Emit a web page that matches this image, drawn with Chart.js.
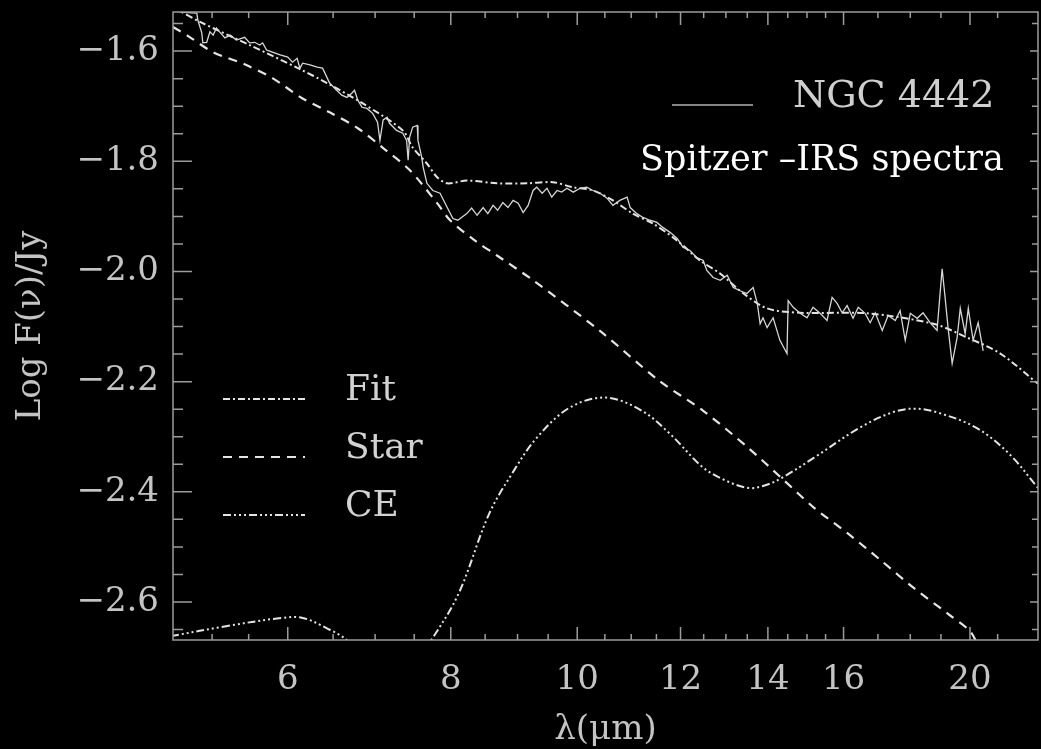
<!DOCTYPE html>
<html>
<head>
<meta charset="utf-8">
<script src="https://cdn.jsdelivr.net/npm/chart.js"></script>
<style>
  html, body { margin: 0; padding: 0; background: #000; overflow: hidden; }
  #wrap { width: 1041px; height: 749px; position: relative; }
</style>
</head>
<body>
<div id="wrap"><canvas id="sed"></canvas></div>
<script>
// observed Spitzer-IRS spectrum of NGC 4442
const specLambda = [4.96,5.11,5.12,5.155,5.165,5.20,5.23,5.26,5.29,5.32,
  5.37,5.42,5.48,5.56,5.61,5.66,5.71,5.74,5.78,5.84,
  5.92,6.00,6.05,6.10,6.13,6.16,6.24,6.32,6.38,6.46,
  6.54,6.60,6.66,6.72,6.75,6.79,6.84,6.90,6.97,7.03,
  7.06,7.10,7.15,7.18,7.27,7.35,7.40,7.42,7.44,7.48,
  7.54,7.55,7.60,7.62,7.67,7.75,7.85,7.95,8.03,8.10,
  8.23,8.30,8.38,8.47,8.54,8.62,8.69,8.77,8.85,8.93,
  9.01,9.09,9.17,9.25,9.31,9.40,9.48,9.56,9.65,9.73,
  9.82,9.93,10.05,10.17,10.28,10.41,10.54,10.65,10.78,10.92,
  10.98,11.11,11.23,11.37,11.51,11.63,11.78,11.93,12.05,12.20,
  12.35,12.49,12.57,12.71,12.87,13.03,13.17,13.33,13.49,13.64,
  13.74,13.81,13.88,13.98,14.13,14.30,14.48,14.51,14.64,14.82,
  15.00,15.16,15.35,15.54,15.68,15.82,15.96,16.10,16.27,16.42,
  16.62,16.77,16.92,17.13,17.31,17.53,17.68,17.84,18.00,18.22,
  18.41,18.64,18.87,19.04,19.14,19.24,19.38,19.55,19.66,19.83,
  19.94,20.11,20.29,20.47];
const specFlux = [-1.529,-1.531,-1.544,-1.567,-1.585,-1.584,-1.565,-1.571,-1.558,-1.565,
  -1.576,-1.571,-1.580,-1.575,-1.585,-1.584,-1.589,-1.585,-1.598,-1.602,
  -1.607,-1.611,-1.620,-1.613,-1.631,-1.622,-1.625,-1.629,-1.631,-1.658,
  -1.671,-1.680,-1.684,-1.676,-1.671,-1.689,-1.702,-1.704,-1.713,-1.729,
  -1.762,-1.725,-1.720,-1.731,-1.744,-1.749,-1.762,-1.798,-1.756,-1.738,
  -1.735,-1.762,-1.793,-1.811,-1.840,-1.853,-1.858,-1.884,-1.904,-1.907,
  -1.895,-1.885,-1.898,-1.884,-1.895,-1.880,-1.889,-1.875,-1.884,-1.871,
  -1.876,-1.893,-1.880,-1.853,-1.847,-1.858,-1.849,-1.865,-1.853,-1.856,
  -1.849,-1.856,-1.849,-1.847,-1.853,-1.858,-1.867,-1.880,-1.871,-1.865,
  -1.884,-1.895,-1.902,-1.907,-1.911,-1.920,-1.929,-1.940,-1.956,-1.962,
  -1.975,-1.980,-1.998,-2.011,-2.016,-2.007,-2.029,-2.035,-2.040,-2.029,
  -2.058,-2.095,-2.084,-2.102,-2.084,-2.125,-2.149,-2.053,-2.065,-2.076,
  -2.084,-2.065,-2.076,-2.089,-2.047,-2.058,-2.075,-2.062,-2.085,-2.065,
  -2.076,-2.093,-2.075,-2.107,-2.080,-2.089,-2.071,-2.125,-2.076,-2.085,
  -2.075,-2.093,-2.107,-1.995,-2.047,-2.102,-2.167,-2.120,-2.067,-2.113,
  -2.067,-2.125,-2.093,-2.144];

// model: fit = star + circumstellar emission (CE)
const fitLambda = [4.90,5.14,5.61,6.11,6.43,6.85,7.35,7.48,7.67,7.81,7.95,8.23,8.68,9.15,9.58,9.92,
  10.28,10.65,11.03,11.43,11.93,12.42,12.87,13.41,13.98,14.82,16.68,18.75,19.90,21.10,22.55];
const fitFlux = [-1.520,-1.547,-1.589,-1.631,-1.658,-1.695,-1.744,-1.775,-1.804,-1.829,-1.840,-1.835,-1.840,-1.840,-1.838,-1.847,
  -1.853,-1.871,-1.895,-1.913,-1.944,-1.980,-2.004,-2.040,-2.067,-2.075,-2.076,-2.095,-2.120,-2.149,-2.204];

const starLambda = [4.90,5.05,5.26,5.56,5.84,6.15,6.46,6.79,7.10,7.44,7.81,7.99,8.35,8.68,9.25,10.41,
  11.55,12.49,13.52,14.34,15.19,16.13,17.10,18.12,19.25,20.00,20.30];
const starFlux = [-1.556,-1.575,-1.602,-1.624,-1.649,-1.685,-1.711,-1.740,-1.776,-1.816,-1.876,-1.907,-1.944,-1.971,-2.016,-2.108,
  -2.198,-2.253,-2.320,-2.375,-2.429,-2.476,-2.525,-2.575,-2.622,-2.653,-2.680];

const ceLambda = [4.88,5.38,5.93,6.16,6.42,6.67,6.90,7.20,7.45,7.72,8.11,8.56,8.94,9.31,9.87,10.52,
  11.21,11.78,12.49,13.01,13.52,13.90,14.34,15.19,16.45,17.43,18.12,18.88,20.23,21.43,22.55];
const ceFlux = [-2.662,-2.644,-2.629,-2.629,-2.647,-2.671,-2.720,-2.780,-2.720,-2.671,-2.585,-2.440,-2.362,-2.302,-2.247,-2.229,
  -2.253,-2.295,-2.356,-2.380,-2.393,-2.389,-2.375,-2.338,-2.284,-2.256,-2.249,-2.256,-2.284,-2.331,-2.393];

// axis ticks
const xMajor = [6, 8, 10, 12, 14, 16, 20];
const xMinor = [5.25, 5.6, 6.5, 7, 7.5, 8.5, 9, 9.5, 10.5, 11, 11.5, 12.5, 13, 13.5, 14.5, 15, 15.5, 17, 18, 19, 21];
const yMajor = [-2.6, -2.4, -2.2, -2.0, -1.8, -1.6];
const yMinor = [-2.65, -2.55, -2.5, -2.45, -2.35, -2.3, -2.25, -2.15, -2.1, -2.05, -1.95, -1.9, -1.85, -1.75, -1.7, -1.65, -1.55];

const pts = (xs, ys) => xs.map((v, i) => ({ x: v, y: ys[i] }));
const SERIF = '"DejaVu Serif", "Liberation Serif", serif';

const frame = {
  id: 'frame',
  afterDraw(chart) {
    const { ctx, chartArea: a, scales: { x, y } } = chart;
    ctx.save();
    ctx.strokeStyle = '#9c9c9c';
    ctx.lineWidth = 1.5;
    ctx.setLineDash([]);
    ctx.strokeRect(a.left, a.top, a.right - a.left, a.bottom - a.top);
    ctx.beginPath();
    const xt = (v, len) => {
      const p = x.getPixelForValue(v);
      ctx.moveTo(p, a.bottom); ctx.lineTo(p, a.bottom - len);
      ctx.moveTo(p, a.top); ctx.lineTo(p, a.top + len);
    };
    const yt = (v, lenL, lenR) => {
      const p = y.getPixelForValue(v);
      ctx.moveTo(a.left, p); ctx.lineTo(a.left + lenL, p);
      ctx.moveTo(a.right, p); ctx.lineTo(a.right - lenR, p);
    };
    xMajor.forEach(v => xt(v, 13));
    xMinor.forEach(v => xt(v, 6));
    yMajor.forEach(v => yt(v, 19, 8));
    yMinor.forEach(v => yt(v, 10, 6));
    ctx.stroke();

    // legend for the model curves
    const ds = chart.data.datasets;
    const rows = [[1, 399], [2, 457], [3, 515]];
    ctx.font = '36px ' + SERIF;
    ctx.textBaseline = 'alphabetic';
    rows.forEach(([i, ly]) => {
      const d = ds[i];
      ctx.strokeStyle = d.borderColor;
      ctx.lineWidth = d.borderWidth;
      ctx.setLineDash(d.borderDash);
      ctx.beginPath();
      ctx.moveTo(223, ly); ctx.lineTo(305, ly);
      ctx.stroke();
      ctx.fillStyle = '#d2d2d2';
      ctx.fillText(d.label, 345, ly + 1);
    });

    // observed spectrum key
    ctx.setLineDash([]);
    ctx.strokeStyle = '#b0b0b0';
    ctx.lineWidth = 1.3;
    ctx.beginPath();
    ctx.moveTo(672, 105); ctx.lineTo(753, 105);
    ctx.stroke();
    ctx.fillStyle = '#cfcfcf';
    ctx.font = '38px ' + SERIF;
    ctx.fillText(ds[0].label, 793, 107);
    ctx.fillStyle = '#ffffff';
    ctx.font = '35px ' + SERIF;
    ctx.fillText('Spitzer \u2013IRS spectra', 640, 170);
    ctx.restore();
  }
};

new Chart(document.getElementById('sed'), {
  type: 'line',
  data: {
    datasets: [
      { label: 'NGC 4442', data: pts(specLambda, specFlux), borderColor: '#d6d6d6', borderWidth: 1.3,
        pointRadius: 0, tension: 0 },
      { label: 'Fit', data: pts(fitLambda, fitFlux), borderColor: '#e4e4e4', borderWidth: 2,
        borderDash: [7, 3, 2, 3], pointRadius: 0, tension: 0.3 },
      { label: 'Star', data: pts(starLambda, starFlux), borderColor: '#e4e4e4', borderWidth: 2.2,
        borderDash: [9, 7], pointRadius: 0, tension: 0.3 },
      { label: 'CE', data: pts(ceLambda, ceFlux), borderColor: '#e4e4e4', borderWidth: 2,
        borderDash: [8, 3, 2, 3, 2, 3, 2, 3], pointRadius: 0, tension: 0.35 }
    ]
  },
  options: {
    responsive: true,
    maintainAspectRatio: false,
    animation: false,
    layout: { padding: { left: 0, top: 12, right: 3, bottom: 0 } },
    plugins: { legend: { display: false }, tooltip: { enabled: false } },
    scales: {
      x: {
        type: 'logarithmic',
        min: 4.9,
        max: 22.55,
        grid: { display: false, drawTicks: false },
        border: { display: false },
        afterBuildTicks: s => { s.ticks = xMajor.map(v => ({ value: v })); },
        afterFit: s => { s.height = 109; s.paddingLeft = 0; s.paddingRight = 0; },
        ticks: {
          autoSkip: false, maxRotation: 0, padding: 20,
          color: '#c4c4c4', font: { family: SERIF, size: 34 },
          callback: v => String(v)
        },
        title: {
          display: true, text: '\u03bb(\u03bcm)', color: '#c4c4c4',
          font: { family: SERIF, size: 34 }, padding: { top: 0, bottom: -2 }
        }
      },
      y: {
        type: 'linear',
        min: -2.669,
        max: -1.529,
        grid: { display: false, drawTicks: false },
        border: { display: false },
        afterBuildTicks: s => { s.ticks = yMajor.map(v => ({ value: v })); },
        afterFit: s => { s.width = 173; s.paddingTop = 0; s.paddingBottom = 0; },
        ticks: {
          padding: 14, color: '#c4c4c4', font: { family: SERIF, size: 34 },
          callback: v => (v < 0 ? '\u2212' : '') + Math.abs(v).toFixed(1)
        },
        title: {
          display: true, text: 'Log F(\u03bd)/Jy', color: '#c4c4c4',
          font: { family: SERIF, size: 34 }, padding: { top: 11, bottom: 0 }
        }
      }
    }
  },
  plugins: [frame]
});
</script>
</body>
</html>
